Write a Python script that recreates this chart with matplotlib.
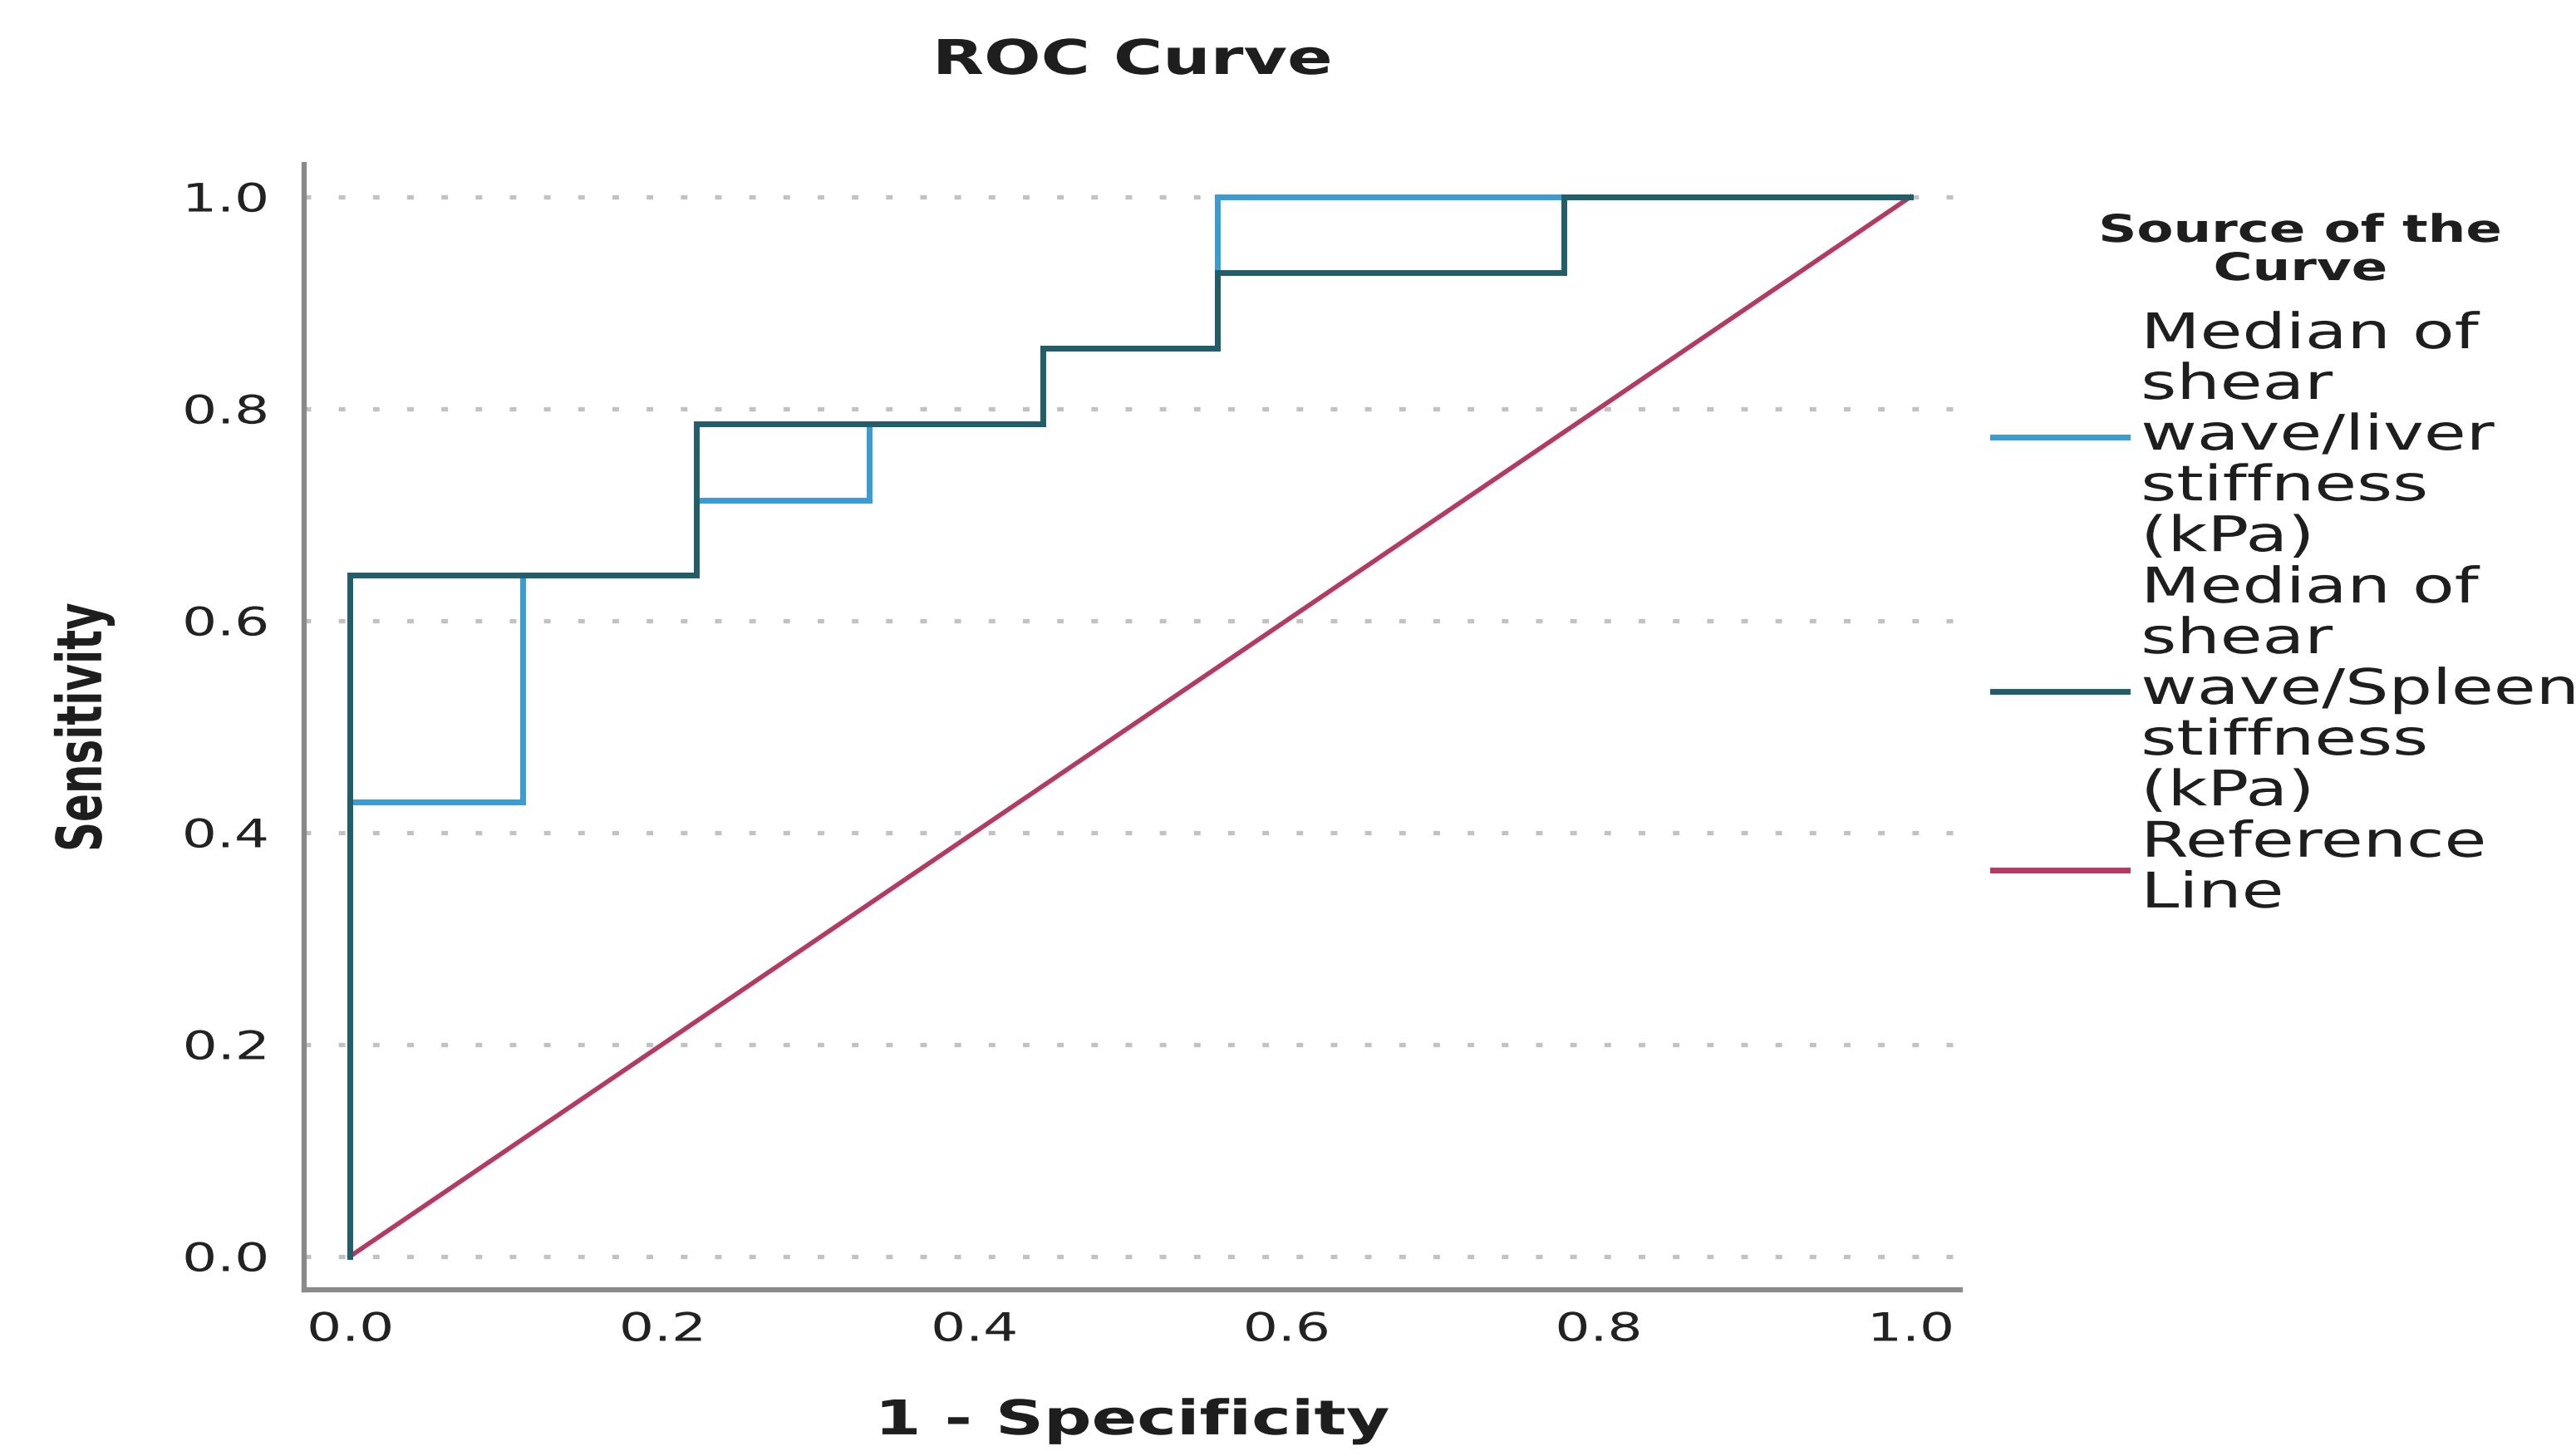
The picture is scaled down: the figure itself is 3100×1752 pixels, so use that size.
import matplotlib
matplotlib.use("Agg")
import matplotlib.pyplot as plt
from matplotlib.patheffects import AbstractPathEffect
from matplotlib.transforms import Affine2D

# ---------------- data ----------------
liver_fpr = [0.0, 0.0, 0.111, 0.111, 0.222, 0.222, 0.333, 0.333, 0.444, 0.444, 0.556, 0.556, 1.0]
liver_tpr = [0.0, 0.429, 0.429, 0.643, 0.643, 0.714, 0.714, 0.786, 0.786, 0.857, 0.857, 1.0, 1.0]
spleen_fpr = [0.0, 0.0, 0.222, 0.222, 0.444, 0.444, 0.556, 0.556, 0.778, 0.778, 1.0]
spleen_tpr = [0.0, 0.643, 0.643, 0.786, 0.786, 0.857, 0.857, 0.929, 0.929, 1.0, 1.0]
ref_x = [0.0, 1.0]
ref_y = [0.0, 1.0]
series_labels = ["Median of\nshear\nwave/liver\nstiffness\n(kPa)",
                 "Median of\nshear\nwave/Spleen\nstiffness\n(kPa)",
                 "Reference\nLine"]
tick_values = [0.0, 0.2, 0.4, 0.6, 0.8, 1.0]
tick_labels = ["0.0", "0.2", "0.4", "0.6", "0.8", "1.0"]
title_text = "ROC Curve"
xlabel_text = "1 - Specificity"
ylabel_text = "Sensitivity"
legend_title_text = "Source of the\nCurve"

# ---------------- styling ----------------
plt.rcParams["font.family"] = ["DejaVu Sans"]
C_LIVER = "#3c9bd0"
C_SPLEEN = "#215e6a"
C_REF = "#b43a62"
TXT = "#1e1e1e"
SX = 1.4  # horizontal stretch of the reference's lettering


class Stretch(AbstractPathEffect):
    """Stretch text glyphs along one glyph axis about an anchor."""

    def __init__(self, s=SX, axis="x", anchor="center"):
        super().__init__()
        self.s, self.axis, self.anchor = s, axis, anchor

    def draw_path(self, renderer, gc, tpath, affine, rgbFace=None):
        v = tpath.vertices
        i = 0 if self.axis == "x" else 1
        if len(v):
            lo, hi = float(v[:, i].min()), float(v[:, i].max())
        else:
            lo = hi = 0.0
        c = {"left": 0.0, "center": 0.5 * (lo + hi), "right": hi}[self.anchor]
        if self.axis == "x":
            pre = Affine2D().translate(-c, 0).scale(self.s, 1).translate(c, 0)
        else:
            pre = Affine2D().translate(0, -c).scale(1, self.s).translate(0, c)
        renderer.draw_path(gc, tpath, pre + affine, rgbFace)


W, H = 3100, 1752
fig = plt.figure(figsize=(W / 100, H / 100), dpi=100)
fig.patch.set_facecolor("white")
ax = fig.add_axes([366 / W, 1 - 1552 / H, (2359 - 366) / W, (1552 - 198) / H])

LW = 5.0
l_ref, = ax.plot(ref_x, ref_y, color=C_REF, lw=4.0, zorder=3, label=series_labels[2])
l_liv, = ax.plot(liver_fpr, liver_tpr, color=C_LIVER, lw=LW, zorder=4, label=series_labels[0],
                 solid_joinstyle="miter")
l_spl, = ax.plot(spleen_fpr, spleen_tpr, color=C_SPLEEN, lw=LW, zorder=5, label=series_labels[1],
                 solid_joinstyle="miter")

ax.set_xlim(-0.0293, 1.032)
ax.set_ylim(-0.0314, 1.0306)
ax.set_xticks(tick_values)
ax.set_xticklabels(tick_labels)
ax.set_yticks(tick_values)
ax.set_yticklabels(tick_labels)
ax.tick_params(axis="both", length=0, labelsize=34, labelcolor="#222222")
ax.tick_params(axis="y", pad=31)
ax.tick_params(axis="x", pad=19)

for s in ("top", "right"):
    ax.spines[s].set_visible(False)
for s in ("left", "bottom"):
    ax.spines[s].set_color("#8a8a8a")
    ax.spines[s].set_linewidth(4.5)

ax.yaxis.grid(True, color="#c2c2c2", lw=3.8, ls=(0, (1.5, 6.3)))
ax.xaxis.grid(False)
ax.set_axisbelow(True)

ttl = ax.set_title(title_text, fontsize=41.5, fontweight="bold", color=TXT, y=1.0805, pad=0)
xl = ax.set_xlabel(xlabel_text, fontsize=41.4, fontweight="bold", color=TXT, va="center")
ax.xaxis.set_label_coords(0.5, -0.117)
yl = ax.set_ylabel(ylabel_text, fontsize=36, fontweight="bold", color=TXT, va="center")
ax.yaxis.set_label_coords((101 - 366) / (2359 - 366), 0.5)

leg = ax.legend(handles=[l_liv, l_spl, l_ref], loc="upper left",
                bbox_to_anchor=(2398 / W, 1 - 374 / H), bbox_transform=fig.transFigure,
                frameon=False, prop={"size": 42.5}, handlelength=2.75, handletextpad=0.27,
                labelspacing=0.08, borderpad=0, borderaxespad=0)
for t in leg.get_texts():
    t.set_linespacing(1.09)
    t.set_color(TXT)
    t.set_path_effects([Stretch(SX, "x", "left")])
for h in leg.legend_handles:
    h.set_linewidth(LW)

lt = fig.text(2768 / W, 1 - 256 / H, legend_title_text, ha="center", va="top",
              fontsize=33, fontweight="bold", color=TXT, linespacing=1.03, multialignment="center")
lt.set_path_effects([Stretch(SX, "x", "center")])

ttl.set_path_effects([Stretch(SX, "x", "center")])
xl.set_path_effects([Stretch(SX, "x", "center")])
yl.set_path_effects([Stretch(1.5, "y", "center")])

fig.canvas.draw()
for t in ax.get_xticklabels():
    t.set_path_effects([Stretch(SX, "x", "center")])
for t in ax.get_yticklabels():
    t.set_path_effects([Stretch(SX, "x", "right")])

fig.savefig("out.png", dpi=100, facecolor="white")
